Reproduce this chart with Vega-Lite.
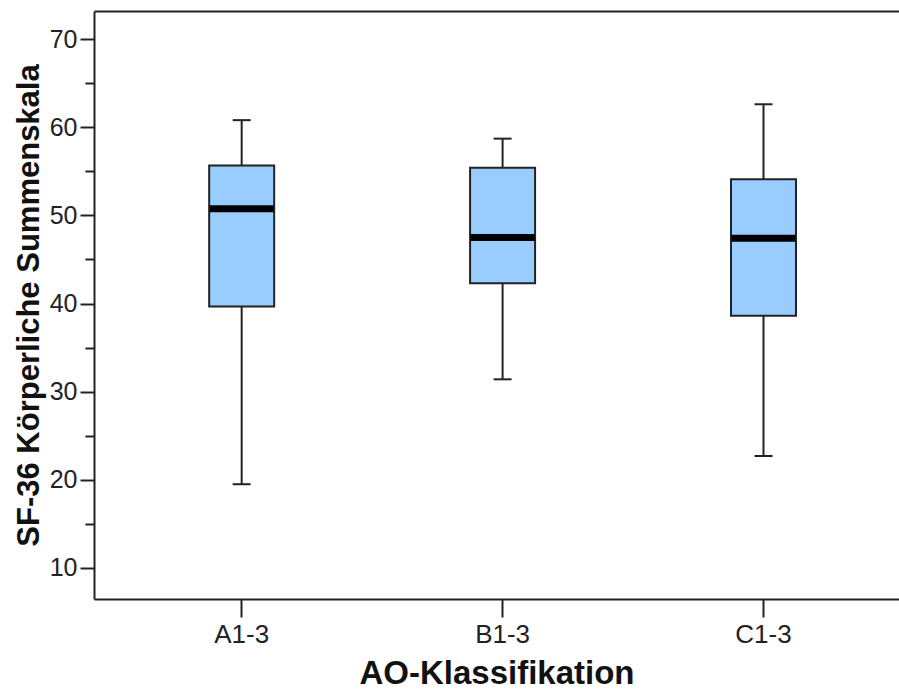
{
  "$schema": "https://vega.github.io/schema/vega-lite/v6.json",
  "autosize": "none",
  "width": 805,
  "height": 588,
  "padding": {"left": 94, "top": 11, "right": 0, "bottom": 98},
  "background": "white",
  "config": {
    "view": {"stroke": null},
    "font": "Liberation Sans"
  },
  "data": {
    "values": [
      {"group": "A1-3", "min": 19.5, "q1": 39.65, "median": 50.75, "q3": 55.65, "max": 60.8},
      {"group": "B1-3", "min": 31.4, "q1": 42.3, "median": 47.5, "q3": 55.4, "max": 58.7},
      {"group": "C1-3", "min": 22.7, "q1": 38.6, "median": 47.4, "q3": 54.1, "max": 62.6}
    ]
  },
  "resolve": {"scale": {"x": "independent"}, "axis": {"x": "independent"}},
  "layer": [
    {
      "layer": [
        {
          "mark": {"type": "rule", "stroke": "#222", "strokeWidth": 2},
          "encoding": {
            "y": {
              "field": "min",
              "type": "quantitative",
              "scale": {"domain": [6.48, 73.18], "nice": false, "zero": false},
              "axis": {
                "title": "SF-36 Körperliche Summenskala",
                "titleFont": "Liberation Sans",
                "titleFontSize": 31,
                "titleFontWeight": "bold",
                "titleColor": "#111",
                "titlePadding": 4,
                "values": [10, 15, 20, 25, 30, 35, 40, 45, 50, 55, 60, 65, 70],
                "labelExpr": "datum.value % 10 === 0 ? datum.label : ''",
                "labelFont": "Liberation Sans",
                "labelFontSize": 25,
                "labelColor": "#222",
                "labelPadding": 3,
                "tickSize": {"condition": {"test": "datum.value % 10 === 0", "value": 14}, "value": 9},
                "tickWidth": 2,
                "tickColor": "#222",
                "domainColor": "#222",
                "domainWidth": 2,
                "grid": false
              }
            },
            "y2": {"field": "max"}
          }
        },
        {
          "mark": {"type": "tick", "color": "#222", "size": 18, "thickness": 2, "opacity": 1},
          "encoding": {"y": {"field": "min", "type": "quantitative"}}
        },
        {
          "mark": {"type": "tick", "color": "#222", "size": 18, "thickness": 2, "opacity": 1},
          "encoding": {"y": {"field": "max", "type": "quantitative"}}
        },
        {
          "mark": {"type": "bar", "size": 65, "fill": "#99ccff", "stroke": "#222", "strokeWidth": 2, "opacity": 1},
          "encoding": {
            "y": {"field": "q1", "type": "quantitative"},
            "y2": {"field": "q3"}
          }
        },
        {
          "mark": {"type": "tick", "color": "#000", "size": 64, "thickness": 7, "opacity": 1},
          "encoding": {"y": {"field": "median", "type": "quantitative"}}
        }
      ],
      "encoding": {
        "x": {
          "field": "group",
          "type": "nominal",
          "scale": {"type": "band", "paddingInner": 0, "paddingOuter": 0.0427, "align": 0.773},
          "axis": {
            "orient": "bottom",
            "title": "AO-Klassifikation",
            "titleFont": "Liberation Sans",
            "titleFontSize": 33,
            "titleFontWeight": "bold",
            "titleColor": "#111",
            "titlePadding": 10,
            "labelAngle": 0,
            "labelFont": "Liberation Sans",
            "labelFontSize": 26,
            "labelColor": "#222",
            "labelPadding": 4,
            "tickSize": 18,
            "tickWidth": 2,
            "tickColor": "#222",
            "domainColor": "#222",
            "domainWidth": 2
          }
        }
      }
    },
    {
      "mark": {"type": "tick", "opacity": 0},
      "encoding": {
        "x": {
          "field": "group",
          "type": "nominal",
          "axis": {
            "orient": "top",
            "title": null,
            "labels": false,
            "ticks": false,
            "domainColor": "#222",
            "domainWidth": 2
          }
        },
        "y": {"field": "median", "type": "quantitative"}
      }
    }
  ]
}
